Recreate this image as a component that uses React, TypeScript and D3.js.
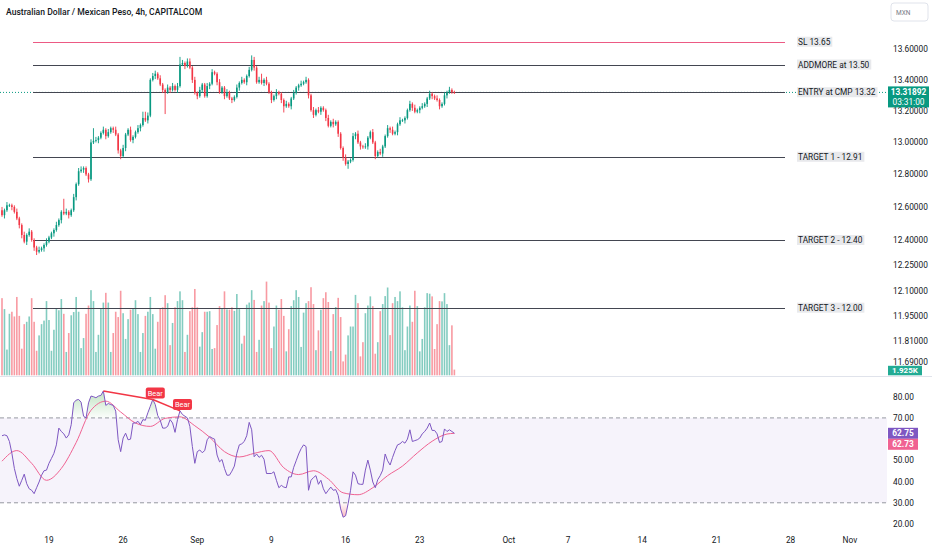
import React, { useLayoutEffect, useRef, useState } from "react";
import * as d3 from "d3";

const W = 932;
const H = 550;

// 4h closes, AUD/MXN
const firstOpen = 12.58;
const closes = [
  12.55, 12.58, 12.61, 12.61, 12.6, 12.57, 12.53, 12.49, 12.43, 12.39,
  12.43, 12.45, 12.4, 12.355, 12.33, 12.34, 12.35, 12.37, 12.39, 12.415,
  12.44, 12.46, 12.49, 12.52, 12.57, 12.56, 12.57, 12.55, 12.58, 12.66,
  12.74, 12.82, 12.83, 12.84, 12.8, 12.77, 13.0, 13.01, 13.015, 13.03,
  13.06, 13.08, 13.04, 13.065, 13.09, 13.08, 13.05, 12.95, 12.915, 12.965,
  13.05, 13.08, 13.015, 13.035, 13.065, 13.09, 13.11, 13.155, 13.14, 13.17,
  13.4, 13.425, 13.44, 13.41, 13.37, 13.335, 13.32, 13.35, 13.335, 13.36,
  13.335, 13.36, 13.5, 13.51, 13.49, 13.52, 13.48, 13.4, 13.315, 13.295,
  13.335, 13.37, 13.295, 13.36, 13.375, 13.45, 13.44, 13.385, 13.32, 13.35,
  13.295, 13.32, 13.28, 13.27, 13.29, 13.35, 13.38, 13.4, 13.385, 13.425,
  13.465, 13.53, 13.48, 13.385, 13.4, 13.38, 13.4, 13.375, 13.32, 13.27,
  13.295, 13.32, 13.31, 13.27, 13.23, 13.245, 13.23, 13.28, 13.315, 13.35,
  13.365, 13.375, 13.385, 13.4, 13.3, 13.205, 13.175, 13.205, 13.195, 13.22,
  13.205, 13.155, 13.105, 13.13, 13.115, 13.13, 13.055, 12.965, 12.905, 12.865,
  12.88, 12.89, 13.04, 13.055, 13.0, 12.975, 12.97, 12.975, 13.03, 13.065,
  13.0, 12.915, 12.94, 12.93, 12.975, 13.04, 13.09, 13.08, 13.055, 13.065,
  13.115, 13.14, 13.14, 13.155, 13.205, 13.245, 13.22, 13.195, 13.205, 13.22,
  13.23, 13.245, 13.28, 13.31, 13.295, 13.28, 13.27, 13.23, 13.245, 13.3,
  13.32, 13.335, 13.32, 13.31892,
];

// wick lengths beyond the body, in hundredths
const upperWicks = [
  2, 1, 2, 1, 1, 1, 2, 1, 1, 2, 1, 2, 1, 1, 1, 2, 1, 1, 2, 1,
  1, 1, 2, 1, 1, 8, 2, 1, 1, 2, 1, 2, 2, 1, 1, 1, 2, 8, 2, 1,
  1, 2, 1, 2, 1, 1, 2, 1, 1, 2, 1, 1, 2, 1, 1, 2, 1, 4, 4, 2,
  1, 2, 2, 1, 2, 1, 1, 2, 1, 2, 1, 2, 5, 2, 1, 2, 2, 1, 2, 1,
  2, 1, 1, 2, 1, 2, 1, 1, 2, 1, 1, 2, 1, 1, 1, 2, 1, 2, 1, 1,
  2, 3, 2, 1, 2, 4, 1, 2, 1, 1, 1, 2, 1, 1, 1, 2, 1, 1, 2, 1,
  1, 2, 1, 2, 1, 1, 2, 1, 2, 1, 1, 1, 2, 1, 2, 1, 1, 1, 1, 2,
  1, 1, 2, 1, 2, 1, 1, 2, 1, 1, 2, 1, 1, 2, 1, 1, 2, 1, 2, 1,
  1, 2, 1, 1, 1, 2, 1, 2, 1, 1, 2, 1, 1, 2, 1, 1, 2, 1, 1, 2,
  1, 2, 1, 1,
];
const lowerWicks = [
  1, 2, 1, 1, 2, 1, 1, 2, 2, 1, 2, 1, 1, 2, 2, 1, 1, 2, 1, 1,
  1, 2, 1, 1, 2, 1, 1, 2, 1, 1, 2, 1, 1, 2, 1, 2, 1, 1, 1, 2,
  1, 1, 2, 1, 1, 2, 1, 2, 2, 1, 2, 1, 1, 2, 1, 1, 2, 1, 1, 2,
  1, 1, 2, 1, 1, 2, 14, 1, 2, 1, 1, 2, 1, 1, 2, 1, 1, 2, 1, 2,
  1, 2, 1, 1, 2, 1, 1, 2, 1, 1, 2, 1, 1, 2, 1, 1, 2, 1, 1, 2,
  1, 1, 2, 1, 1, 1, 2, 1, 1, 2, 1, 2, 1, 2, 4, 1, 1, 2, 1, 1,
  2, 1, 1, 1, 2, 1, 2, 1, 1, 2, 1, 2, 1, 1, 2, 1, 2, 1, 2, 1,
  3, 1, 1, 2, 1, 2, 1, 1, 2, 1, 1, 2, 1, 1, 2, 1, 1, 2, 1, 1,
  2, 1, 1, 2, 1, 1, 2, 1, 1, 2, 1, 1, 2, 1, 2, 1, 1, 2, 1, 1,
  2, 1, 1, 1,
];

// volume, thousands
const volumes = [
  26.1, 22.4, 8.7, 20.8, 21.5, 19.9, 26.5, 20.1, 9.0, 17.3,
  18.1, 19.9, 26.1, 18.1, 8.3, 13.5, 17.3, 18.5, 25.1, 18.7,
  8.3, 15.4, 22.5, 22.0, 25.8, 20.8, 7.9, 14.3, 20.3, 21.4,
  26.5, 21.5, 9.2, 12.6, 20.8, 23.6, 28.8, 25.1, 7.9, 13.7,
  22.5, 24.6, 27.9, 24.6, 7.9, 14.3, 21.5, 19.7, 28.6, 21.0,
  12.3, 19.0, 22.2, 22.5, 25.4, 20.7, 7.9, 14.3, 20.1, 21.5,
  26.5, 20.7, 9.0, 18.1, 22.7, 23.0, 27.1, 24.4, 10.2, 17.7,
  23.0, 25.1, 28.4, 25.4, 7.9, 13.7, 21.7, 23.0, 29.2, 23.0,
  9.7, 14.6, 21.5, 21.5, 21.7, 8.9, 9.2, 17.0, 23.4, 22.7,
  28.4, 22.3,
  22.2, 23.0, 21.8, 27.5, 22.4, 10.7, 13.4, 23.9, 24.6, 28.8,
  25.5, 7.9, 12.0, 23.6, 25.1, 31.7, 24.6, 9.2, 16.5, 23.6,
  22.2, 25.8, 20.1, 8.1, 15.6, 23.4, 25.4, 28.8, 26.5, 9.6,
  21.2, 24.4, 25.1, 29.8, 24.1, 8.5, 15.2, 22.2, 26.1, 28.1,
  24.8, 8.2, 20.7, 23.1, 26.2, 19.7, 4.7, 7.0, 13.5, 16.5,
  16.5, 27.2, 24.4, 6.4, 11.2, 21.0, 23.6, 26.7, 23.4, 7.3,
  11.2, 21.7, 24.1, 26.8, 29.7, 13.6, 24.4, 26.5, 25.1, 28.4,
  23.0, 8.5, 16.5, 23.6, 18.1, 28.6, 23.4, 8.1, 12.3, 23.0,
  27.8, 27.6, 26.7, 8.9, 17.3, 25.1, 25.0, 27.8, 24.1, 10.2,
  16.9, 1.925,
];

// RSI(14)
const rsi = [
  61.6, 62.0, 61.6, 58.9, 53.3, 46.2, 41.4, 37.8, 40.6, 43.5,
  39.0, 36.6, 35.9, 34.3, 37.1, 39.8, 43.0, 45.1, 45.4, 48.6,
  50.9, 53.3, 57.3, 65.2, 63.6, 62.5, 60.5, 62.0, 66.8, 77.1,
  78.4, 78.7, 77.4, 70.8, 70.0, 77.1, 80.3, 80.0, 79.5, 80.3,
  80.6, 82.7, 75.9, 76.8, 76.3, 75.9, 73.2, 59.7, 54.1, 60.5,
  62.8, 59.7, 60.0, 67.6, 67.6, 68.4, 66.8, 69.2, 68.9, 72.4,
  75.5, 78.7, 76.3, 71.1, 68.9, 65.2, 65.2, 66.0, 69.2, 67.6,
  63.2, 69.2, 73.3, 71.6, 70.8, 70.0, 66.0, 56.5, 48.6, 54.1,
  54.9, 53.6, 54.6, 59.7, 61.2, 60.5, 60.0, 52.5, 49.3, 50.4,
  46.2, 43.0, 43.0, 44.9, 47.3, 53.3, 57.3, 57.8, 58.9, 61.6,
  67.9, 64.4, 51.7, 53.0, 51.4, 52.4, 50.5, 43.8, 43.8, 43.8,
  44.6, 40.6, 37.1, 38.2, 37.4, 37.1, 42.2, 42.2, 46.7, 49.8,
  53.0, 55.5, 57.3, 56.5, 35.9, 40.6, 41.9, 42.8, 38.7, 40.6,
  36.6, 34.3, 35.9, 37.4, 35.9, 36.2, 33.5, 27.1, 23.2, 23.9,
  29.5, 35.9, 44.6, 43.0, 39.0, 38.7, 38.7, 45.4, 50.1, 45.4,
  39.8, 37.1, 40.9, 42.8, 45.4, 53.0, 49.8, 47.8, 51.4, 54.6,
  57.3, 57.8, 58.9, 58.1, 60.0, 64.4, 58.9, 59.3, 59.7, 60.5,
  62.5, 63.6, 65.2, 67.6, 64.1, 64.1, 62.5, 58.4, 58.9, 64.8,
  63.6, 64.4, 63.6, 62.75,
];

// RSI-based MA, sampled every 6 bars
const rsiMaBars = [0, 6, 12, 18, 24, 30, 36, 42, 48, 54, 60, 66, 72, 78, 84, 90, 96, 102, 108, 114, 120, 126, 132, 138, 144, 150, 156, 162, 168, 174, 180, 183];
const rsiMaVals = [49.6, 54.6, 48.6, 40.6, 46.2, 58.4, 73.6, 77.9, 72.8, 67.6, 66.0, 69.8, 70.5, 66.3, 60.9, 54.1, 51.6, 53.3, 54.6, 46.5, 43.3, 45.1, 41.2, 34.7, 33.8, 37.1, 42.8, 47.3, 53.5, 59.0, 62.4, 62.73];

// bearish divergence pivots on RSI
const bearPivots = [41, 61, 72];

const levelPrices = [13.65, 13.5, 13.32, 12.91, 12.4, 12.0];
const levelLabels = ["SL 13.65", "ADDMORE at 13.50", "ENTRY at CMP 13.32", "TARGET 1 - 12.91", "TARGET 2 - 12.40", "TARGET 3 - 12.00"];

const priceTicks = [13.6, 13.4, 13.2, 13.0, 12.8, 12.6, 12.4, 12.25, 12.1, 11.95, 11.81, 11.69];
const rsiTicks = [80, 70, 50, 40, 30, 20];
const dateLabels = ["19", "26", "Sep", "9", "16", "23", "Oct", "7", "14", "21", "28", "Nov"];
const dateBars = [19, 49, 79, 109, 139, 169, 205, 229, 259, 289, 319, 343];

const lastPrice = 13.31892;
const countdown = "03:31:00";
const lastVolume = "1.925K";

const UP = "#089981";
const DOWN = "#F23645";
const FONT = "Roboto, 'Noto Sans', sans-serif";
const TXT = "#131722";
const PLOT_R = 887;

const LevelLabel: React.FC<{ x: number; y: number; text: string }> = ({ x, y, text }) => {
  const ref = useRef<SVGTextElement>(null);
  const [w, setW] = useState(text.length * 4.1);
  useLayoutEffect(() => {
    if (ref.current) setW(ref.current.getComputedTextLength());
  }, [text]);
  return (
    <g>
      <rect x={x - 1} y={y - 5} width={w + 3} height={10} fill="#e8e9ec" />
      <text ref={ref} x={x} y={y + 3} fontSize={8.3} fill={TXT} fontFamily={FONT}>
        {text}
      </text>
    </g>
  );
};

const App: React.FC = () => {
  const x = d3.scaleLinear().domain([0, 343]).range([2, 849.9]);
  const yP = d3.scaleLog().domain([11.69, 13.6]).range([361.7, 49.3]);
  const yV = d3.scaleLinear().domain([0, 31.8]).range([375.3, 281.3]);
  const yR = d3.scaleLinear().domain([20, 80]).range([524, 396.7]);

  const bars = closes.map((c, i) => {
    const o = i === 0 ? firstOpen : closes[i - 1];
    const hi = Math.max(o, c) + upperWicks[i] / 100;
    const lo = Math.min(o, c) - lowerWicks[i] / 100;
    return { i, o, c, hi, lo, up: c >= o };
  });

  const rsiLine = d3
    .line<number>()
    .x((_, i) => x(i))
    .y((d) => yR(d));
  const obArea = d3
    .area<number>()
    .x((_, i) => x(i))
    .y0(yR(70))
    .y1((d) => yR(Math.max(d, 70)));
  const osArea = d3
    .area<number>()
    .x((_, i) => x(i))
    .y0(yR(30))
    .y1((d) => yR(Math.min(d, 30)));
  const maLine = d3
    .line<number>()
    .x((b) => x(b))
    .y((_, k) => yR(rsiMaVals[k]))
    .curve(d3.curveMonotoneX);

  const bw = 1.6;

  return (
    <div style={{ position: "absolute", left: 0, top: 0 }}>
      <svg width={W} height={H} style={{ display: "block", background: "#fff" }}>
        <defs>
          <linearGradient id="ob" x1="0" y1="0" x2="0" y2="1">
            <stop offset="0" stopColor="#4caf50" stopOpacity={0.35} />
            <stop offset="1" stopColor="#4caf50" stopOpacity={0.02} />
          </linearGradient>
          <linearGradient id="os" x1="0" y1="0" x2="0" y2="1">
            <stop offset="0" stopColor="#f23645" stopOpacity={0.02} />
            <stop offset="1" stopColor="#f23645" stopOpacity={0.35} />
          </linearGradient>
        </defs>

        <text x={6} y={15} fontSize={8.6} fontWeight={500} fill={TXT} fontFamily={FONT}>
          Australian Dollar / Mexican Peso, 4h, CAPITALCOM
        </text>

        {/* volume */}
        <g>
          {volumes.map((v, i) => (
            <rect
              key={i}
              x={x(i) - bw / 2}
              y={yV(v)}
              width={bw}
              height={yV(0) - yV(v)}
              fill={bars[i] && bars[i].up ? UP : DOWN}
              opacity={0.5}
            />
          ))}
        </g>

        {/* current price line */}
        <line
          x1={0}
          x2={PLOT_R}
          y1={yP(lastPrice)}
          y2={yP(lastPrice)}
          stroke={UP}
          strokeWidth={1}
          strokeDasharray="1 2"
        />

        {/* drawn levels */}
        {levelPrices.map((p, k) => (
          <g key={k}>
            <line
              x1={33}
              x2={785}
              y1={Math.round(yP(p)) + 0.5}
              y2={Math.round(yP(p)) + 0.5}
              stroke={k === 0 ? "#ec5a84" : "#434651"}
              strokeWidth={1.2}
            />
            <LevelLabel x={798} y={yP(p)} text={levelLabels[k]} />
          </g>
        ))}

        {/* candles */}
        <g>
          {bars.map((b) => {
            const col = b.up ? UP : DOWN;
            const top = yP(Math.max(b.o, b.c));
            const bot = yP(Math.min(b.o, b.c));
            return (
              <g key={b.i}>
                <line x1={x(b.i)} x2={x(b.i)} y1={yP(b.hi)} y2={yP(b.lo)} stroke={col} strokeWidth={0.9} />
                <rect x={x(b.i) - bw / 2} y={top} width={bw} height={Math.max(bot - top, 0.8)} fill={col} />
              </g>
            );
          })}
        </g>

        {/* price axis */}
        {priceTicks.map((t) => (
          <text key={t} x={893} y={yP(t) + 3} fontSize={8.3} fill={TXT} fontFamily={FONT}>
            {t.toFixed(5)}
          </text>
        ))}
        <rect x={891} y={3} width={37} height={18} rx={3} fill="#fff" stroke="#e0e3eb" />
        <text x={896} y={14.5} fontSize={6.5} fill="#787b86" fontFamily={FONT}>
          MXN
        </text>
        <rect x={888} y={yP(lastPrice) - 6} width={41} height={21} fill={UP} />
        <text x={908.5} y={yP(lastPrice) + 3} fontSize={8.3} fontWeight={700} fill="#fff" textAnchor="middle" fontFamily={FONT}>
          {lastPrice.toFixed(5)}
        </text>
        <text x={908.5} y={yP(lastPrice) + 12.5} fontSize={8.3} fill="#fff" textAnchor="middle" fontFamily={FONT}>
          {countdown}
        </text>
        <rect x={888} y={yV(0) - 9.5} width={34} height={9.5} fill="#22ab94" />
        <text x={905} y={yV(0) - 2} fontSize={8} fontWeight={700} fill="#fff" textAnchor="middle" fontFamily={FONT}>
          {lastVolume}
        </text>

        {/* pane separator */}
        <line x1={0} x2={W} y1={376.5} y2={376.5} stroke="#e0e3eb" strokeWidth={1} />

        {/* RSI pane */}
        <rect x={0} y={yR(70)} width={PLOT_R} height={yR(30) - yR(70)} fill="#7e57c2" opacity={0.07} />
        <line x1={0} x2={PLOT_R} y1={yR(70)} y2={yR(70)} stroke="#9598a1" strokeDasharray="4 3" />
        <line x1={0} x2={PLOT_R} y1={yR(30)} y2={yR(30)} stroke="#9598a1" strokeDasharray="4 3" />
        <path d={obArea(rsi) || ""} fill="url(#ob)" />
        <path d={osArea(rsi) || ""} fill="url(#os)" />
        <path d={maLine(rsiMaBars) || ""} fill="none" stroke="#f06292" strokeWidth={1} />
        <path d={rsiLine(rsi) || ""} fill="none" stroke="#7e57c2" strokeWidth={1} />

        {/* divergence */}
        {bearPivots.slice(1).map((p, k) => {
          const prev = bearPivots[k];
          const px = x(p);
          const py = yR(rsi[p]);
          return (
            <g key={p}>
              <line x1={x(prev)} y1={yR(rsi[prev])} x2={px} y2={py} stroke={DOWN} strokeWidth={1.5} />
              <rect x={px - 7} y={py - 12} width={19} height={11} rx={2} fill={DOWN} />
              <text x={px + 2.5} y={py - 3.8} fontSize={7.4} fill="#fff" textAnchor="middle" fontFamily={FONT}>
                Bear
              </text>
            </g>
          );
        })}

        {rsiTicks.map((t) => (
          <text key={t} x={893} y={yR(t) + 3} fontSize={8.3} fill={TXT} fontFamily={FONT}>
            {t.toFixed(2)}
          </text>
        ))}
        <rect x={888} y={yR(rsi[rsi.length - 1]) - 5.5} width={30} height={11} fill="#7e57c2" />
        <text x={903} y={yR(rsi[rsi.length - 1]) + 3} fontSize={8.3} fontWeight={700} fill="#fff" textAnchor="middle" fontFamily={FONT}>
          {rsi[rsi.length - 1].toFixed(2)}
        </text>
        <rect x={888} y={yR(rsi[rsi.length - 1]) + 5.5} width={30} height={11} fill="#f06292" />
        <text x={903} y={yR(rsi[rsi.length - 1]) + 14} fontSize={8.3} fontWeight={700} fill="#fff" textAnchor="middle" fontFamily={FONT}>
          {rsiMaVals[rsiMaVals.length - 1].toFixed(2)}
        </text>

        {/* time axis */}
        {dateLabels.map((d, k) => (
          <text key={d} x={x(dateBars[k])} y={543} fontSize={8.3} fill={TXT} textAnchor="middle" fontFamily={FONT}>
            {d}
          </text>
        ))}
      </svg>
    </div>
  );
};

export default App;
